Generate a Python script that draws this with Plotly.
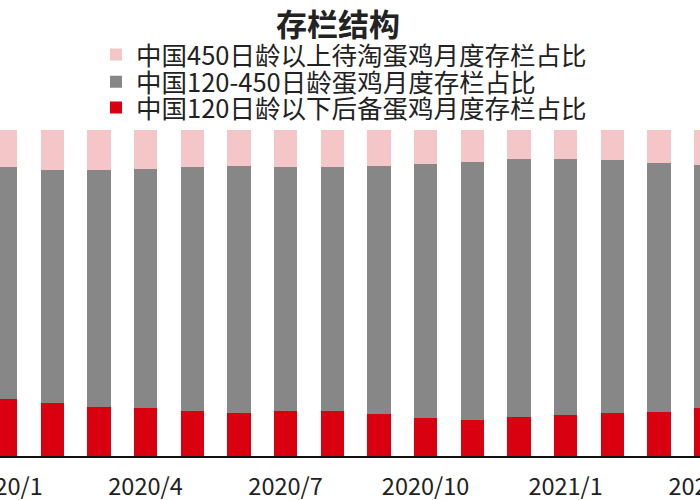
import plotly.graph_objects as go

months = ["2020/1", "2020/2", "2020/3", "2020/4", "2020/5", "2020/6", "2020/7", "2020/8",
          "2020/9", "2020/10", "2020/11", "2020/12", "2021/1", "2021/2", "2021/3", "2021/4"]
tick_labels = ["2020/1", "2020/4", "2020/7", "2020/10", "2021/1", "2021/4"]

under120 = [17.5, 16.4, 15.0, 14.6, 13.8, 13.1, 13.8, 13.8, 12.9, 11.8, 11.1, 11.9, 12.5, 13.1, 13.6, 14.7]
mid120_450 = [71.1, 71.2, 72.6, 73.3, 74.8, 76.0, 75.0, 74.9, 76.2, 77.9, 79.2, 79.3, 78.7, 77.6, 76.2, 74.7]
over450 = [11.4, 12.4, 12.4, 12.1, 11.4, 10.9, 11.2, 11.3, 10.9, 10.3, 9.7, 8.8, 8.8, 9.3, 10.2, 10.6]

names = ["中国120日龄以下后备蛋鸡月度存栏占比",
         "中国120-450日龄蛋鸡月度存栏占比",
         "中国450日龄以上待淘蛋鸡月度存栏占比"]
colors = ["#D9000F", "#878787", "#F4C6C8"]
legend_ids = ["legend3", "legend2", "legend"]

fig = go.Figure()
for name, vals, col, lg in zip(names, [under120, mid120_450, over450], colors, legend_ids):
    fig.add_trace(go.Bar(x=months, y=vals, name=name, legend=lg,
                         marker=dict(color=col, line=dict(width=0))))

W = 729
FONT = "Noto Sans CJK SC, Microsoft YaHei, sans-serif"
leg_common = dict(orientation="v", x=96 / W, xanchor="left", yanchor="middle",
                  font=dict(size=25.5, family=FONT, color="#222222"),
                  bgcolor="rgba(0,0,0,0)", itemclick=False, itemdoubleclick=False)
fig.update_layout(
    width=W, height=500,
    barmode="stack", bargap=0.5,
    plot_bgcolor="white", paper_bgcolor="white",
    margin=dict(l=0, r=0, t=130, b=44, autoexpand=False),
    font=dict(family=FONT, color="#222222"),
    title=dict(text="<b>存栏结构</b>", x=338 / W, xanchor="center", xref="paper",
               y=1 - 25 / 500, yanchor="middle", yref="container",
               font=dict(size=31, family=FONT, color="#222222")),
    legend=dict(y=1.230, **leg_common),
    legend2=dict(y=1.147, **leg_common),
    legend3=dict(y=1.0675, **leg_common),
    showlegend=True,
)
fig.update_xaxes(type="category", range=[-0.118, 15.5], tickvals=tick_labels, ticktext=tick_labels,
                 automargin=False, ticklabelstandoff=9,
                 showline=True, linecolor="#111111", linewidth=2, ticks="", showgrid=False,
                 tickfont=dict(size=23.5, family=FONT, color="#222222"))
fig.update_yaxes(range=[0, 100], visible=False, showgrid=False, automargin=False)

fig.write_html("out.html", config={"displayModeBar": False},
               post_script="document.body.style.margin='0';document.body.style.overflow='hidden';")
